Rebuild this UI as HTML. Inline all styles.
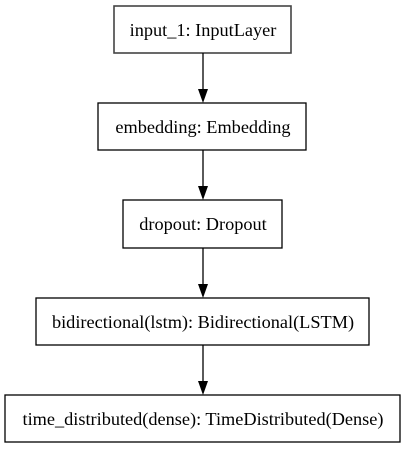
<!DOCTYPE html>
<html><head><style>html,body{margin:0;padding:0;background:#fff;width:405px;height:449px;overflow:hidden}</style></head>
<body>
<svg width="405" height="449" xmlns="http://www.w3.org/2000/svg" font-family="Liberation Serif, serif" font-size="18.3">
<g fill="#fff" stroke="#000" stroke-width="1.3">
<rect x="114" y="6" width="177" height="47" stroke="#444" stroke-width="1.6"/>
<rect x="98" y="103" width="208" height="47"/>
<rect x="123" y="200" width="159" height="48"/>
<rect x="36" y="298" width="333" height="47"/>
<rect x="5" y="395" width="395" height="47"/>
</g>
<g stroke="#000" stroke-width="1.3">
<line x1="203" y1="53" x2="203" y2="90"/>
<line x1="203" y1="150" x2="203" y2="187"/>
<line x1="203" y1="248" x2="203" y2="285"/>
<line x1="203" y1="345" x2="203" y2="382"/>
</g>
<g fill="#000">
<polygon points="198,89 208,89 203,103"/>
<polygon points="198,186 208,186 203,200"/>
<polygon points="198,284 208,284 203,298"/>
<polygon points="198,381 208,381 203,395"/>
</g>
<g text-anchor="middle" fill="#000">
<text x="203" y="36">input_1: InputLayer</text>
<text x="203" y="133">embedding: Embedding</text>
<text x="203" y="230">dropout: Dropout</text>
<text x="203" y="328">bidirectional(lstm): Bidirectional(LSTM)</text>
<text x="203" y="425">time_distributed(dense): TimeDistributed(Dense)</text>
</g>
</svg>
</body></html>
